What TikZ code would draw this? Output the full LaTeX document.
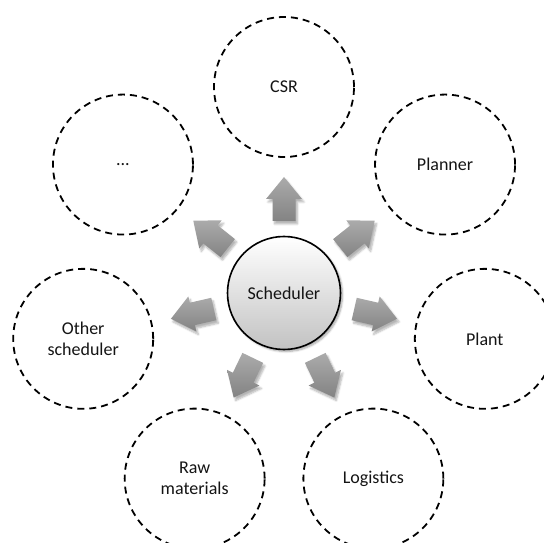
\documentclass[tikz,border=0pt]{standalone}
\usepackage{fontspec}
\setmainfont{Carlito}
\usetikzlibrary{calc,shadows.blur}

\definecolor{inkgray}{HTML}{141414}
\definecolor{arrowtop}{HTML}{ABABAB}
\definecolor{arrowbot}{HTML}{838383}
\definecolor{hubbot}{HTML}{C2C2C2}

\tikzset{
  x=1pt, y=1pt,
  every node/.style={font=\fontsize{18}{21}\selectfont, text=inkgray},
  hub/.style={circle, draw=black, line width=1.6pt, minimum size=113pt,
    inner sep=0pt, top color=white, bottom color=hubbot,
    blur shadow={shadow xshift=2pt, shadow yshift=-2pt, shadow opacity=35,
      shadow blur steps=6}},
  party/.style={circle, draw=black, line width=1.8pt,
    dash pattern=on 7pt off 5pt, minimum size=140pt, inner sep=0pt,
    align=center},
  flow/.style={top color=arrowtop, bottom color=arrowbot, draw=none,
    blur shadow={shadow xshift=2pt, shadow yshift=-3pt, shadow opacity=30,
      shadow blur steps=6}},
}

% block arrow pointing outwards from the hub at a given angle
\newcommand{\outarrow}[1]{%
  \shade[flow, shift={(hub.center)}, rotate=#1]
    (72,-11.5) -- (94,-11.5) -- (94,-18) -- (116,0) -- (94,18)
    -- (94,11.5) -- (72,11.5) -- cycle;}

\begin{document}
\begin{tikzpicture}
\useasboundingbox (0,0) rectangle (544,542);

\node[hub] (hub) at (284,249) {Scheduler};

\node[party] (csr)       at ($(hub.center)+(90:206)$)      {CSR};
\node[party] (planner)   at ($(hub.center)+(38.57:206)$)   {Planner};
\node[party] (plant)     at ($(hub.center)+(-12.86:206)$)  {Plant};
\node[party] (logistics) at ($(hub.center)+(-64.29:206)$)  {Logistics};
\node[party] (raw)       at ($(hub.center)+(-115.71:206)$) {Raw\\materials};
\node[party] (other)     at ($(hub.center)+(-167.14:206)$) {Other\\scheduler};
\node[party] (more)      at ($(hub.center)+(141.43:206)$)  {...};

\outarrow{90}
\outarrow{38.57}
\outarrow{-12.86}
\outarrow{-64.29}
\outarrow{-115.71}
\outarrow{-167.14}
\outarrow{141.43}
\end{tikzpicture}
\end{document}
